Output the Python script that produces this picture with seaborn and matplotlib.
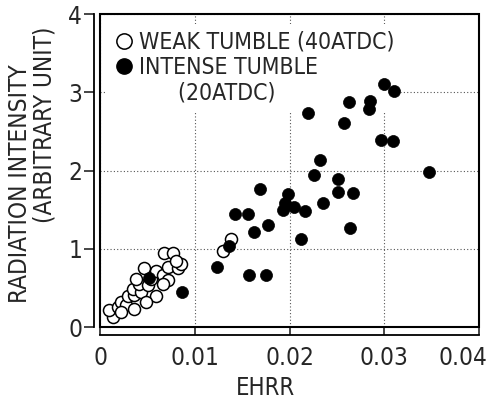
import numpy as np
import seaborn as sns
import matplotlib.pyplot as plt
import matplotlib.transforms as mtransforms
from matplotlib.patches import Rectangle
from matplotlib.lines import Line2D

# weak tumble (40ATDC) - open circles
weak_ehrr = [0.00137, 0.00095, 0.0019, 0.0022, 0.0027, 0.0036, 0.0030, 0.0036,
             0.0035, 0.0043, 0.0041, 0.0051, 0.0059, 0.0054, 0.0038, 0.0059,
             0.0066, 0.0072, 0.0066, 0.0046, 0.0072, 0.0082, 0.0085, 0.0068,
             0.0077, 0.0080, 0.0130, 0.0138, 0.0022, 0.0049]
weak_rad = [0.13, 0.22, 0.26, 0.32, 0.28, 0.23, 0.39, 0.41,
            0.49, 0.45, 0.55, 0.54, 0.39, 0.62, 0.62, 0.71,
            0.67, 0.60, 0.55, 0.75, 0.77, 0.75, 0.80, 0.94,
            0.94, 0.84, 0.97, 1.12, 0.19, 0.32]

# intense tumble (20ATDC) - filled circles
intense_ehrr = [0.0052, 0.0087, 0.0123, 0.0136, 0.0157, 0.0175, 0.0142, 0.0156,
                0.0163, 0.0177, 0.0169, 0.0198, 0.0195, 0.0193, 0.0205, 0.0216,
                0.0212, 0.0235, 0.0226, 0.0251, 0.0251, 0.0267, 0.0264, 0.0232,
                0.0220, 0.0257, 0.0263, 0.0285, 0.0284, 0.0300, 0.0310, 0.0296,
                0.0309, 0.0347]
intense_rad = [0.63, 0.45, 0.77, 1.04, 0.66, 0.66, 1.44, 1.44,
               1.22, 1.30, 1.76, 1.70, 1.58, 1.49, 1.54, 1.48,
               1.12, 1.58, 1.94, 1.89, 1.73, 1.71, 1.27, 2.14,
               2.74, 2.61, 2.88, 2.89, 2.79, 3.11, 3.01, 2.39,
               2.38, 1.98]

x_ticks = [0, 0.01, 0.02, 0.03, 0.04]
x_tick_labels = ["0", "0.01", "0.02", "0.03", "0.04"]
y_ticks = [0, 1, 2, 3, 4]

sns.set_style("white")
plt.rcParams["font.family"] = ["DejaVu Sans"]
plt.rcParams["font.stretch"] = "condensed"

fig = plt.figure(figsize=(4.91, 4.01), dpi=100)
ax = fig.add_axes([0.2037, 0.1845, 0.772, 0.7805])

sns.scatterplot(x=weak_ehrr, y=weak_rad, ax=ax, s=75, facecolor="white",
                edgecolor="black", linewidth=1.1, zorder=3)
sns.scatterplot(x=intense_ehrr, y=intense_rad, ax=ax, s=75, color="black",
                edgecolor="black", linewidth=0.5, zorder=4)

ax.set_xlim(0, 0.04)
ax.set_ylim(0, 4)
ax.set_xticks(x_ticks)
ax.set_xticklabels(x_tick_labels)
ax.set_yticks(y_ticks)

# dotted grid
ax.grid(True, linestyle=(0, (1, 2)), color="#555555", linewidth=0.8)
ax.set_axisbelow(True)

# offset axis lines, plus a box around the plot area
for side in ["top", "right"]:
    ax.spines[side].set_visible(False)
ax.spines["left"].set_position(("outward", 4.3))
ax.spines["bottom"].set_position(("outward", 5.5))
for side in ["left", "bottom"]:
    ax.spines[side].set_linewidth(1.3)
    ax.spines[side].set_color("black")
ax.add_patch(Rectangle((0, 0), 1, 1, transform=ax.transAxes, fill=False,
                       edgecolor="black", linewidth=1.5, zorder=5, clip_on=False))

ax.tick_params(axis="x", direction="in", length=5, width=1.2, labelsize=17.5, pad=8,
               bottom=True)
ax.tick_params(axis="y", direction="out", length=7, width=1.2, labelsize=17.5,
               pad=1.5, left=True)

# last x label sits left of its tick so it stays inside the picture
last = ax.get_xticklabels()[-1]
last.set_horizontalalignment("right")
last.set_transform(last.get_transform() + mtransforms.ScaledTranslation(8 / 100, 0, fig.dpi_scale_trans))

ax.set_xlabel("EHRR", fontsize=17, labelpad=0)
ax.xaxis.set_label_coords(0.437, -0.155)

# y label: two lines typed with the second one set higher
fig.text(20 / 491, 1 - 184 / 401, "RADIATION INTENSITY", rotation=90,
         ha="center", va="center", fontsize=17.5)
fig.text(45 / 491, 1 - 125 / 401, "(ARBITRARY UNIT)", rotation=90,
         ha="center", va="center", fontsize=17.5)

# legend: marker next to the first line, second line indented without marker
handles = [
    Line2D([], [], marker="o", linestyle="none", markersize=11,
           markerfacecolor="white", markeredgecolor="black", markeredgewidth=1.1),
    Line2D([], [], marker="o", linestyle="none", markersize=11,
           markerfacecolor="black", markeredgecolor="black"),
    Line2D([], [], linestyle="none"),
]
labels = ["WEAK TUMBLE (40ATDC)", "INTENSE TUMBLE", "      (20ATDC)"]
leg = ax.legend(handles, labels, loc="upper left", bbox_to_anchor=(0.0, 0.99),
                frameon=True, facecolor="white", edgecolor="none", framealpha=1.0,
                fontsize=16.5, handletextpad=0.2, borderpad=0.3, labelspacing=0.1,
                handlelength=0.9, borderaxespad=0.3)
leg.set_zorder(2.5)

fig.savefig("out.png", dpi=100)
